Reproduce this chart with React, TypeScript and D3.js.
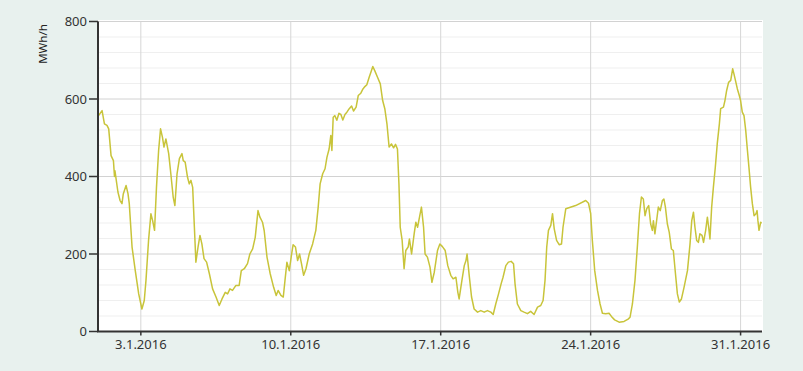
import React from "react";
import * as d3 from "d3";

// hourly load as (day offset from 1.1.2016, MWh/h)
const dayOffsets = [
  0, 0.19, 0.3, 0.42, 0.5, 0.61, 0.72, 0.77, 0.79, 0.93, 1.03, 1.12, 1.18, 1.31, 1.4, 1.46, 1.59, 1.74, 1.9, 2.05,
  2.16, 2.24, 2.36, 2.47, 2.55, 2.64, 2.73, 2.83, 2.92, 3.01, 3.08, 3.17, 3.3, 3.4, 3.51, 3.59, 3.69, 3.8, 3.92, 3.98,
  4.07, 4.18, 4.26, 4.34, 4.42, 4.5, 4.57, 4.67, 4.76, 4.85, 4.95, 5.07, 5.2, 5.35, 5.51, 5.66, 5.79, 5.94, 6.05, 6.16,
  6.28, 6.44, 6.59, 6.69, 6.83, 6.98, 7.09, 7.22, 7.34, 7.47, 7.56, 7.68, 7.76, 7.89, 8.04, 8.2, 8.32, 8.41, 8.54, 8.65,
  8.73, 8.82, 8.93, 9.04, 9.11, 9.22, 9.32, 9.41, 9.5, 9.6, 9.71, 9.86, 10.02, 10.17, 10.28, 10.37, 10.49, 10.6, 10.69, 10.79,
  10.87, 10.92, 10.98, 11.06, 11.15, 11.25, 11.34, 11.43, 11.53, 11.62, 11.73, 11.84, 11.93, 12.05, 12.15, 12.27, 12.37, 12.46, 12.55, 12.66,
  12.74, 12.83, 12.93, 13.05, 13.18, 13.29, 13.39, 13.49, 13.59, 13.7, 13.8, 13.89, 13.98, 14.05, 14.11, 14.2, 14.29, 14.37, 14.48, 14.54,
  14.64, 14.76, 14.84, 14.92, 15.01, 15.1, 15.2, 15.27, 15.38, 15.5, 15.59, 15.7, 15.85, 15.96, 16.08, 16.21, 16.33, 16.47, 16.58, 16.71,
  16.8, 16.86, 16.99, 17.1, 17.18, 17.23, 17.33, 17.44, 17.56, 17.72, 17.87, 18.03, 18.18, 18.34, 18.45, 18.57, 18.7, 18.82, 18.91, 19.04,
  19.16, 19.29, 19.4, 19.47, 19.58, 19.74, 19.89, 20.05, 20.2, 20.36, 20.52, 20.67, 20.78, 20.87, 20.95, 21.03, 21.14, 21.22, 21.3, 21.41,
  21.53, 21.64, 21.71, 21.84, 22.3, 22.77, 22.9, 23.0, 23.08, 23.19, 23.32, 23.44, 23.55, 23.7, 23.86, 23.97, 24.12, 24.33, 24.56, 24.75,
  24.84, 24.95, 25.07, 25.18, 25.28, 25.37, 25.46, 25.54, 25.62, 25.71, 25.8, 25.88, 25.93, 26.0, 26.08, 26.16, 26.25, 26.35, 26.42, 26.49,
  26.58, 26.67, 26.77, 26.86, 26.96, 27.05, 27.14, 27.24, 27.36, 27.52, 27.64, 27.72, 27.8, 27.87, 27.95, 28.03, 28.1, 28.2, 28.27, 28.37,
  28.45, 28.51, 28.57, 28.65, 28.73, 28.82, 28.91, 29.01, 29.07, 29.2, 29.27, 29.35, 29.44, 29.54, 29.63, 29.69, 29.76, 29.85, 29.94, 30.0,
  30.08, 30.16, 30.24, 30.32, 30.39, 30.47, 30.55, 30.63, 30.72, 30.77, 30.81, 30.86, 30.94, 30.98,
];

const loadValues = [
  555, 570, 536, 532, 523, 454, 441, 400, 415, 360, 338, 330, 355, 377, 356, 330, 218, 157, 97, 58,
  80, 132, 235, 304, 286, 261, 372, 467, 523, 501, 476, 497, 459, 407, 347, 325, 407, 446, 459, 441,
  437, 398, 381, 390, 372, 269, 179, 218, 248, 226, 188, 179, 149, 110, 89, 67, 84, 101, 97, 110,
  106, 119, 119, 157, 162, 175, 200, 213, 243, 312, 295, 282, 260, 192, 149, 114, 93, 106, 93, 89,
  132, 179, 157, 200, 224, 218, 183, 200, 175, 145, 162, 200, 226, 261, 321, 381, 407, 420, 450, 471,
  506, 467, 553, 557, 545, 563, 560, 546, 560, 566, 575, 582, 569, 579, 609, 615, 626, 632, 637, 656,
  669, 684, 672, 656, 639, 596, 575, 536, 476, 484, 474, 483, 471, 381, 269, 235, 162, 209, 218, 239,
  200, 252, 282, 269, 295, 321, 269, 200, 192, 166, 127, 153, 209, 226, 219, 209, 170, 145, 136, 140,
  101, 84, 132, 170, 183, 200, 145, 89, 58, 50, 54, 50, 54, 50, 44, 71, 97, 123, 140, 170,
  179, 181, 175, 123, 71, 54, 50, 46, 52, 44, 63, 67, 80, 132, 218, 261, 274, 304, 265, 235,
  224, 226, 269, 317, 325, 338, 331, 305, 235, 157, 106, 71, 47, 46, 47, 39, 30, 24, 26, 32,
  37, 71, 132, 218, 304, 347, 342, 299, 317, 325, 278, 261, 286, 252, 286, 321, 312, 338, 342, 321,
  278, 256, 213, 209, 149, 97, 76, 84, 114, 157, 226, 286, 308, 269, 235, 230, 252, 248, 230, 261,
  295, 269, 239, 321, 372, 424, 484, 536, 575, 579, 596, 622, 643, 648, 678, 665, 648, 626, 609, 596,
  566, 557, 519, 467, 424, 372, 330, 299, 304, 312, 286, 261, 282, 279,
];

const yTicks = [0, 200, 400, 600, 800];
const xTickDays = [3, 10, 17, 24, 31];

const W = 803;
const H = 371;
const margin = { left: 98, right: 41, top: 21.5, bottom: 39.5 };

const start = new Date(2016, 0, 1);
const dayToDate = (d: number) => new Date(start.getTime() + d * 86400000);

export default function App() {
  const x = d3
    .scaleTime()
    .domain([start, new Date(2016, 1, 1)])
    .range([margin.left, W - margin.right]);
  const y = d3
    .scaleLinear()
    .domain([0, 800])
    .range([H - margin.bottom, margin.top]);

  const data = dayOffsets.map((d, i) => ({ t: dayToDate(d), v: loadValues[i] }));
  const line = d3
    .line<{ t: Date; v: number }>()
    .x((d) => x(d.t))
    .y((d) => y(d.v));

  const fmt = d3.timeFormat("%-d.%-m.%Y");
  const minor = d3.range(0, 801, 40).filter((v) => v % 200 !== 0);
  const xTicks = xTickDays.map((d) => new Date(2016, 0, d));
  const [x0, x1] = x.range();
  const [y0, y1] = y.range();
  const font = "'Noto Sans', 'Open Sans', sans-serif";

  return (
    <div style={{ position: "fixed", left: 0, top: 0 }}>
      <svg width={W} height={H} style={{ display: "block" }}>
        <rect width={W} height={H} fill="#e8f1ee" />
        <rect x={x0} y={y1 - 1.5} width={x1 - x0 + 1} height={y0 - y1 + 1.5} fill="#ffffff" />

        {/* minor grid */}
        {minor.map((v) => (
          <line key={"m" + v} x1={x0} x2={x1} y1={y(v)} y2={y(v)} stroke="#efefef" strokeWidth={1} />
        ))}
        {/* major grid */}
        {yTicks.slice(1).map((v) => (
          <line key={"g" + v} x1={x0} x2={x1} y1={y(v)} y2={y(v)} stroke="#d2d2d2" strokeWidth={1} />
        ))}
        {xTicks.map((t) => (
          <line key={"v" + t.getTime()} x1={x(t)} x2={x(t)} y1={y1} y2={y0} stroke="#d6d6d6" strokeWidth={1} />
        ))}

        <path d={line(data) ?? ""} fill="none" stroke="#c8c43a" strokeWidth={1.5} strokeLinejoin="round" />

        {/* axes */}
        <line x1={x0} x2={x0} y1={y1} y2={y0} stroke="#333" strokeWidth={2} />
        <line x1={x0 - 1} x2={x1} y1={y0} y2={y0} stroke="#333" strokeWidth={2} />
        {yTicks.map((v) => (
          <g key={"yt" + v}>
            <line x1={x0 - 9} x2={x0} y1={y(v)} y2={y(v)} stroke="#333" strokeWidth={1.5} />
            <text x={x0 - 11} y={y(v)} dy="0.35em" textAnchor="end" fontFamily={font} fontSize={13} fill="#333">
              {v}
            </text>
          </g>
        ))}
        {xTicks.map((t) => (
          <g key={"xt" + t.getTime()}>
            <line x1={x(t)} x2={x(t)} y1={y0} y2={y0 + 4} stroke="#333" strokeWidth={1.5} />
            <text x={x(t)} y={y0 + 17} textAnchor="middle" fontFamily={font} fontSize={13} fill="#333">
              {fmt(t)}
            </text>
          </g>
        ))}
        <text
          transform={`translate(47, 44) rotate(-90)`}
          textAnchor="middle"
          fontFamily={font}
          fontSize={11.5}
          fill="#222"
        >
          MWh/h
        </text>
      </svg>
    </div>
  );
}
